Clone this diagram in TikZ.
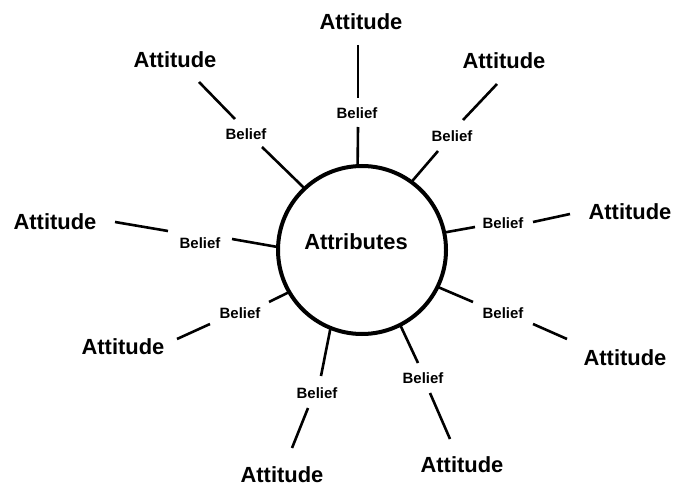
\documentclass[tikz,border=0pt]{standalone}
\usepackage{fontspec}
\setmainfont{Liberation Sans}
\begin{document}
\begin{tikzpicture}[x=1bp,y=-1bp,
  attitude/.style={font=\fontsize{22}{26}\selectfont\bfseries, inner sep=0pt},
  belief/.style={font=\fontsize{15}{18}\selectfont\bfseries, inner sep=0pt},
  spoke/.style={line width=2.6bp, black},
  hub/.style={circle, draw, line width=4bp, minimum size=168bp, inner sep=0pt, outer sep=0pt}]
\useasboundingbox[fill=white] (0,0) rectangle (677,488);
% hub
\node[hub] (hub) at (362,250) {};
\node[font=\fontsize{22}{26}\selectfont\bfseries] (attr) at (356,242) {Attributes};
% attitudes
\node[attitude] (a1) at (361,22) {Attitude};
\node[attitude] (a2) at (175,60) {Attitude};
\node[attitude] (a3) at (504,61) {Attitude};
\node[attitude] (a4) at (55,222) {Attitude};
\node[attitude] (a5) at (630,212) {Attitude};
\node[attitude] (a6) at (123,347) {Attitude};
\node[attitude] (a7) at (282,475) {Attitude};
\node[attitude] (a8) at (462,465) {Attitude};
\node[attitude] (a9) at (625,358) {Attitude};
% beliefs
\node[belief] (b1) at (357,113) {Belief};
\node[belief] (b2) at (246,134) {Belief};
\node[belief] (b3) at (452,136) {Belief};
\node[belief] (b4) at (200,243) {Belief};
\node[belief] (b5) at (503,223) {Belief};
\node[belief] (b6) at (240,313) {Belief};
\node[belief] (b7) at (317,393) {Belief};
\node[belief] (b8) at (423,378) {Belief};
\node[belief] (b9) at (503,313) {Belief};
% outer segment end points
\coordinate (o1a) at (358,45);  \coordinate (o1b) at (358,98);
\coordinate (o2a) at (199,82);  \coordinate (o2b) at (235,119);
\coordinate (o3a) at (497,84);  \coordinate (o3b) at (463,120);
\coordinate (o4a) at (115,222); \coordinate (o4b) at (168,231);
\coordinate (o5a) at (570,214); \coordinate (o5b) at (533,222);
\coordinate (o6a) at (177,339); \coordinate (o6b) at (210,324);
\coordinate (o7a) at (292,448); \coordinate (o7b) at (308,408);
\coordinate (o8a) at (450,439); \coordinate (o8b) at (430,393);
\coordinate (o9a) at (567,339); \coordinate (o9b) at (533,324);
% inner segment start points
\coordinate (i1) at (358,127);
\coordinate (i2) at (262,147);
\coordinate (i3) at (438,151);
\coordinate (i4) at (232,239);
\coordinate (i5) at (475,227);
\coordinate (i6) at (269,302);
\coordinate (i7) at (321,376);
\coordinate (i8) at (418,363);
\coordinate (i9) at (473,302);
% spokes
\draw[spoke] (o1a) -- (o1b); \draw[spoke] (i1) -- (hub.93);
\draw[spoke] (o2a) -- (o2b); \draw[spoke] (i2) -- (hub.133.6);
\draw[spoke] (o3a) -- (o3b); \draw[spoke] (i3) -- (hub.54.5);
\draw[spoke] (o4a) -- (o4b); \draw[spoke] (i4) -- (hub.178);
\draw[spoke] (o5a) -- (o5b); \draw[spoke] (i5) -- (hub.12.5);
\draw[spoke] (o6a) -- (o6b); \draw[spoke] (i6) -- (hub.210);
\draw[spoke] (o7a) -- (o7b); \draw[spoke] (i7) -- (hub.248);
\draw[spoke] (o8a) -- (o8b); \draw[spoke] (i8) -- (hub.297.5);
\draw[spoke] (o9a) -- (o9b); \draw[spoke] (i9) -- (hub.334);
\end{tikzpicture}
\end{document}
